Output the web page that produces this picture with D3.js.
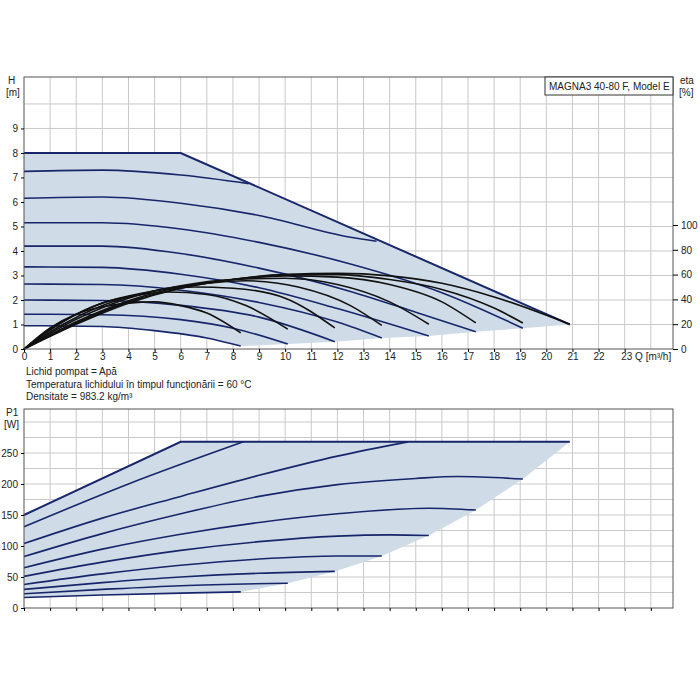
<!DOCTYPE html>
<html><head><meta charset="utf-8">
<script src="https://cdn.jsdelivr.net/npm/d3@7"></script>
<style>body{margin:0;background:#fff}text{font-family:Arial,"Liberation Sans",sans-serif;font-size:10px;fill:#222}</style>
</head><body>
<script>
// H [m] speed curves, [Q, H]
var hMax = [[0,8],[6,8],[20.9,1.0]];
var hCurves = [
  [[0,7.25],[3,7.3],[6,7.1],[8.6,6.75]],
  [[0,6.15],[3,6.2],[6,5.95],[9,5.45],[12.5,4.56],[13.5,4.4]],
  [[0,5.15],[3,5.15],[6,4.9],[9,4.35],[12.5,3.47],[16,2.3],[19.1,0.85]],
  [[0,4.2],[3,4.2],[6,3.9],[9,3.3],[12.5,2.35],[15,1.5],[17.3,0.7]],
  [[0,3.35],[3,3.33],[6,3.05],[9,2.5],[12,1.65],[15.5,0.53]],
  [[0,2.65],[3,2.63],[6,2.4],[9,1.9],[12,1.1],[13.7,0.45]],
  [[0,2.0],[3,1.98],[6,1.78],[9,1.3],[11.9,0.3]],
  [[0,1.42],[3,1.4],[6,1.2],[8,0.85],[10.1,0.2]],
  [[0,0.95],[3,0.92],[5,0.75],[7,0.45],[8.3,0.12]]
];
var hLower = [[8.3,0.12],[10.1,0.2],[11.9,0.3],[13.7,0.45],[15.5,0.53],[17.3,0.7],[19.1,0.85],[20.9,1.0]];
// efficiency curves, [Q, eta %]
var etaCurves = [
  [[0,0],[1,17],[2,28],[3,34],[4,37],[5,38],[6,35],[7,29],[8.3,13]],
  [[0,0],[1,16],[2,28],[3,37],[4,42],[5.5,46],[7,44],[8.5,35],[10.1,16]],
  [[0,0],[1.5,22],[3,37],[4.5,45],[6.5,50],[8,49],[10,41],[11.9,17]],
  [[0,0],[1.5,20],[3,35],[5,47],[7,53],[8.5,55],[10.5,50],[12.5,35],[13.7,19]],
  [[0,0],[2,24],[4,41],[6,51],[8,56],[10,57],[12,52],[14,38],[15.5,20]],
  [[0,0],[2,22],[4,39],[6,50],[8,56],[10,59],[12,58],[14,52],[16,38],[17.3,21]],
  [[0,0],[2,21],[4,38],[6,49],[8,56],[10,60],[12,60],[14,56],[16,48],[18,33],[19.1,21]],
  [[0,0],[2,20],[4,37],[6,49],[8,56],[10,60],[12,61],[14,59],[16,53],[18,42],[20.9,20]]
];
// P1 [W] curves, [Q, W]
var pMax = [[0,150],[6,268],[20.9,268]];
var pCurves = [
  [[0,131],[4,200],[8.4,268]],
  [[0,104],[3,145],[6,180],[9,214],[12,245],[14.7,268]],
  [[0,83],[3,120],[6,152],[9,180],[12,199],[15,209],[16.6,212],[19.1,208]],
  [[0,65],[3,95],[6,119],[9,138],[12,152],[15.5,161],[17.3,158]],
  [[0,51],[3,74],[6,93],[9,107],[12,116],[14,118],[15.5,117]],
  [[0,38],[3,55],[6,69],[9,79],[12,84],[13.7,84]],
  [[0,30],[3,41],[6,50],[9,56],[11.9,59]],
  [[0,23],[3,30],[6,36],[10.1,40]],
  [[0,17],[3,21],[6,24],[8.3,26]]
];
var pRight = [[20.9,268],[19.1,208],[17.3,158],[15.5,117],[13.7,84],[11.9,59],[10.1,40],[8.3,26]];
var qTicks = d3.range(0, 24);
var hTicks = d3.range(0, 10);
var etaTicks = [0,20,40,60,80,100];
var pTicks = [0,50,100,150,200,250];
var notes = ["Lichid pompat = Apă","Temperatura lichidului în timpul funcţionării = 60 °C","Densitate = 983.2 kg/m³"];

var svg = d3.select("body").append("svg").attr("width",700).attr("height",700);
var shade = "#cfdbe7", blue = "#17266b";

var x = d3.scaleLinear().domain([0,24.85]).range([24,673]);
var yH = d3.scaleLinear().domain([0,11.1]).range([349,77]);
var yE = d3.scaleLinear().domain([0,100]).range([349,225]);
var yP = d3.scaleLinear().domain([0,321]).range([608,409]);

function grid(y, yt, top, bot) {
  var g = svg.append("g").attr("stroke","#c9c9c9").attr("stroke-width",1);
  d3.range(1,25).forEach(function(q){ g.append("line").attr("x1",x(q)).attr("x2",x(q)).attr("y1",top).attr("y2",bot); });
  yt.forEach(function(v){ g.append("line").attr("x1",24).attr("x2",673).attr("y1",y(v)).attr("y2",y(v)); });
}
grid(yH, d3.range(1,11), 77, 349);
grid(yP, d3.range(25,301,25), 409, 608);

var lH = d3.line().x(function(d){return x(d[0]);}).y(function(d){return yH(d[1]);}).curve(d3.curveMonotoneX);
var lE = d3.line().x(function(d){return x(d[0]);}).y(function(d){return yE(d[1]);}).curve(d3.curveMonotoneX);
var lP = d3.line().x(function(d){return x(d[0]);}).y(function(d){return yP(d[1]);}).curve(d3.curveMonotoneX);
var lin = function(y){ return d3.line().x(function(d){return x(d[0]);}).y(function(d){return y(d[1]);}); };

// top shaded area
var low = hCurves[hCurves.length-1];
var topPoly = hMax.concat(hLower.slice().reverse().slice(1), low.slice().reverse().slice(1));
svg.append("path").attr("d", lin(yH)(topPoly)+"Z").attr("fill",shade);
hCurves.forEach(function(c){ svg.append("path").attr("d",lH(c)).attr("fill","none").attr("stroke",blue).attr("stroke-width",1.6); });
svg.append("path").attr("d",lin(yH)(hMax)).attr("fill","none").attr("stroke",blue).attr("stroke-width",2);
etaCurves.forEach(function(c){ svg.append("path").attr("d",lE(c)).attr("fill","none").attr("stroke","#111").attr("stroke-width",1.6); });

// bottom shaded area
var pLow = pCurves[pCurves.length-1];
var botPoly = pMax.concat(pRight.slice(1), pLow.slice().reverse().slice(1));
svg.append("path").attr("d", lin(yP)(botPoly)+"Z").attr("fill",shade);
pCurves.forEach(function(c){ svg.append("path").attr("d",lP(c)).attr("fill","none").attr("stroke",blue).attr("stroke-width",1.6); });
svg.append("path").attr("d",lin(yP)(pMax)).attr("fill","none").attr("stroke",blue).attr("stroke-width",2);

// frames
svg.append("rect").attr("x",24).attr("y",77).attr("width",649).attr("height",272).attr("fill","none").attr("stroke","#555");
svg.append("rect").attr("x",24).attr("y",409).attr("width",649).attr("height",199).attr("fill","none").attr("stroke","#555");

// axes
svg.append("g").attr("transform","translate(0,349)")
  .call(d3.axisBottom(x).tickValues(qTicks).tickSize(3).tickFormat(function(d){return d===23?"23 Q [m³/h]":d;}))
  .call(function(g){g.select(".domain").remove(); g.selectAll("text").attr("font-size",10).attr("dy","0.5em");
    g.selectAll(".tick").filter(function(d){return d===23;}).select("text").attr("text-anchor","start").attr("dx","-4");});
svg.append("g").attr("transform","translate(24,0)")
  .call(d3.axisLeft(yH).tickValues(hTicks).tickSize(3))
  .call(function(g){g.select(".domain").remove(); g.selectAll("text").attr("font-size",10);});
svg.append("g").attr("transform","translate(673,0)")
  .call(d3.axisRight(yE).tickValues(etaTicks).tickSize(5))
  .call(function(g){g.select(".domain").remove(); g.selectAll("text").attr("font-size",10);});
svg.append("g").attr("transform","translate(24,0)")
  .call(d3.axisLeft(yP).tickValues(pTicks).tickSize(3))
  .call(function(g){g.select(".domain").remove(); g.selectAll("text").attr("font-size",10);});
svg.append("g").attr("transform","translate(0,608)")
  .call(d3.axisBottom(x).tickValues(d3.range(0,25)).tickSize(3).tickFormat(""))
  .call(function(g){g.select(".domain").remove();});

// labels
svg.append("text").attr("x",8).attr("y",84).text("H");
svg.append("text").attr("x",6).attr("y",96).text("[m]");
svg.append("text").attr("x",680).attr("y",84).text("eta");
svg.append("text").attr("x",679).attr("y",96).text("[%]");
svg.append("text").attr("x",6).attr("y",416).text("P1");
svg.append("text").attr("x",4).attr("y",428).text("[W]");
svg.append("rect").attr("x",545).attr("y",77).attr("width",128).attr("height",18).attr("fill","#fff").attr("stroke","#333");
svg.append("text").attr("x",549).attr("y",90).text("MAGNA3 40-80 F, Model E");
notes.forEach(function(t,i){ svg.append("text").attr("x",26).attr("y",375+i*12.5).text(t); });
</script>
</body></html>
